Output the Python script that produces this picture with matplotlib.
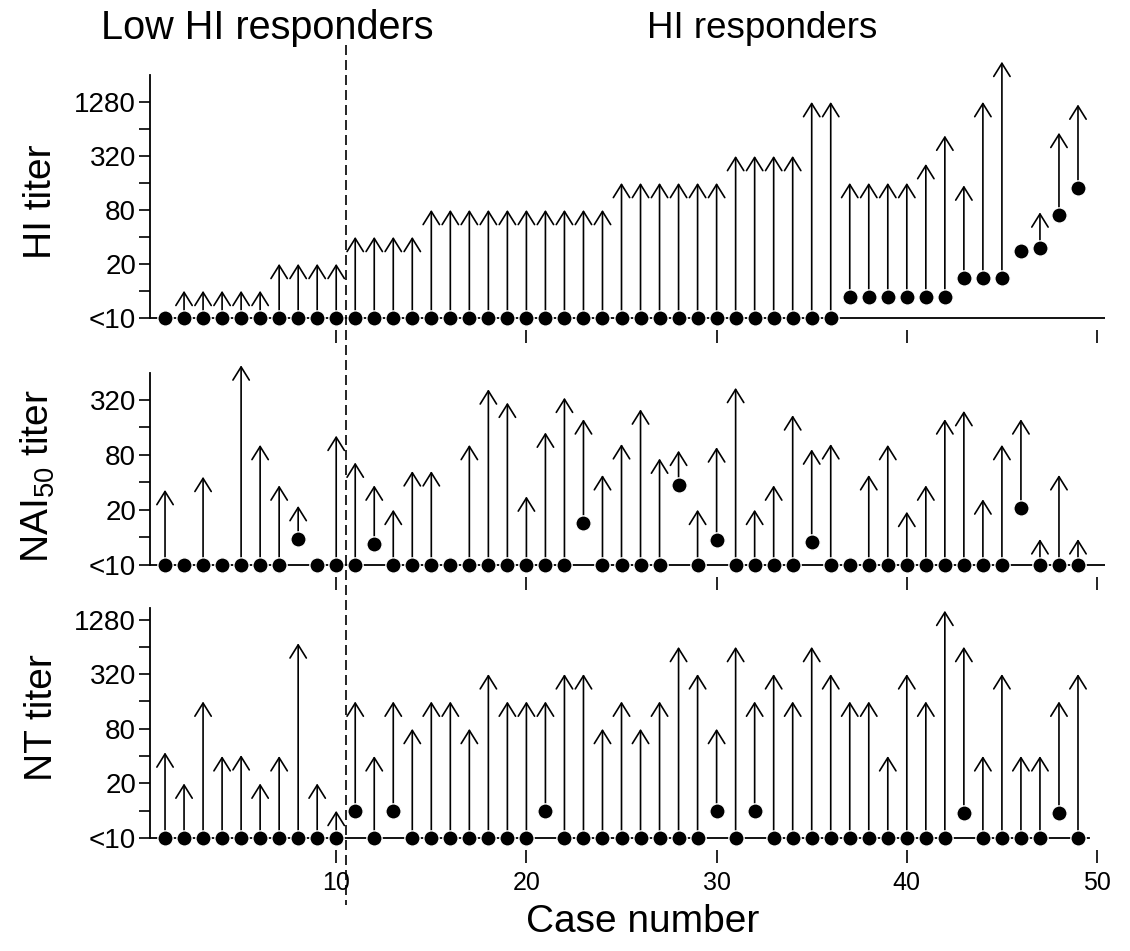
import matplotlib
matplotlib.use('Agg')
import matplotlib.pyplot as plt
import numpy as np
from matplotlib.lines import Line2D
from matplotlib.ticker import NullFormatter

plt.rcParams['font.family'] = ['Liberation Sans', 'DejaVu Sans']
plt.rcParams['mathtext.fontset'] = 'custom'
plt.rcParams['mathtext.rm'] = 'Liberation Sans'
plt.rcParams['mathtext.it'] = 'Liberation Sans:italic'

nan = np.nan
cases = np.arange(1, 50)
# "<10" is drawn at 5 on the log2 axis

# HI titer: pre (dot) and post (arrow tip)
hi_pre = [5]*36 + [8.5]*6 + [14]*3 + [28, 30, 70, 140]
hi_post = ([nan] + [10]*5 + [20]*4 + [40]*4 + [80]*10 + [160]*6 + [320]*4 + [1280]*2
           + [160]*4 + [260, 540, 150, 1280, 3600, nan, 75, 580, 1200])

# NAI50 titer
nai_pre = [5]*49
for c, v in {8: 9.6, 12: 8.4, 23: 14.4, 28: 37, 30: 9.3, 35: 8.8, 46: 20.7}.items():
    nai_pre[c-1] = v
nai_post = [33, nan, 46, nan, 770, 103, 37, 22, nan, 130,
            66, 37, 20, 53, 53, nan, 103, 420, 300, 28,
            141, 340, 197, 48, 105, 253, 73, 89, 20, 97,
            436, 20, 37, 218, 92, 105, nan, 48, 103, 19,
            37, 197, 243, 26, 103, 197, 9.5, 48, 9.5]

# NT titer
nt_pre = [5]*49
for c, v in {11: 10, 13: 10, 21: 10, 30: 10, 32: 10, 43: 9.4, 48: 9.4}.items():
    nt_pre[c-1] = v
nt_post = [44, 20, 160, 40, 41, 20, 40, 700, 20, 10,
           160, 40, 160, 80, 160, 160, 80, 320, 160, 160,
           160, 320, 320, 80, 160, 80, 160, 640, 320, 80,
           640, 160, 320, 160, 640, 320, 160, 160, 40, 320,
           160, 1600, 640, 40, 320, 40, 40, 160, 320]

xlim = (0.21, 50.42)
W, H = 1130, 951

fig = plt.figure(figsize=(W/100, H/100), dpi=100)

def px_axes(top, bottom, left=150, right=1105):
    return fig.add_axes([left/W, 1-bottom/H, (right-left)/W, (bottom-top)/H])

def panel(ax, pre, post, ylim, spine_top, major, minor, show_x, line_end=50.42):
    ax.set_yscale('log', base=2)
    ax.set_xlim(*xlim)
    ax.set_ylim(*ylim)
    ax.plot([xlim[0], line_end], [5, 5], color='black', lw=1.3, zorder=1)
    for c, a, b in zip(cases, pre, post):
        if not np.isnan(b):
            ax.annotate('', xy=(c, b), xytext=(c, a),
                        arrowprops=dict(arrowstyle='->,head_length=0.45,head_width=0.28',
                                        lw=1.2, color='black', shrinkA=0, shrinkB=0,
                                        mutation_scale=21), zorder=3)
    ax.plot(cases, pre, 'o', color='black', ms=11, mec='white', mew=1.0,
            zorder=4, clip_on=False)
    for s in ['top', 'right', 'bottom']:
        ax.spines[s].set_visible(False)
    ax.spines['left'].set_linewidth(1.3)
    ax.spines['left'].set_bounds(5, spine_top)
    ax.set_yticks(major)
    ax.set_yticklabels(['<10' if m == 5 else str(m) for m in major])
    ax.set_yticks(minor, minor=True)
    ax.yaxis.set_minor_formatter(NullFormatter())
    ax.tick_params(axis='y', which='both', direction='out', length=8, width=1.2,
                   labelsize=20, pad=2)
    ax.set_xticks([10, 20, 30, 40, 50])
    ax.tick_params(axis='x', direction='out', length=9, width=1.2,
                   labelbottom=show_x, labelsize=18, pad=6)

ax1 = px_axes(55, 330)
panel(ax1, hi_pre, hi_post, (3.65, 4280), 2560,
      [5, 20, 80, 320, 1280], [10, 40, 160, 640], False)

ax2 = px_axes(355, 577)
panel(ax2, nai_pre, nai_post, (3.65, 1000), 640,
      [5, 20, 80, 320], [10, 40, 160], False)

ax3 = px_axes(600, 850)
panel(ax3, nt_pre, nt_post, (3.7, 2100), 1700,
      [5, 20, 80, 320, 1280], [10, 40, 160, 640], True, line_end=49.6)

# dashed divider between low and high HI responders
xf = (150 + (10.5 - xlim[0]) / (xlim[1] - xlim[0]) * (1105 - 150)) / W
fig.add_artist(Line2D([xf, xf], [1-45/H, 1-905/H], transform=fig.transFigure,
                      ls=(0, (6, 3)), color='black', lw=1.2))

fig.text(267/W, 1-28/H, 'Low HI responders', ha='center', va='center', fontsize=28.5)
fig.text(762/W, 1-28/H, 'HI responders', ha='center', va='center', fontsize=26.5)
fig.text(643/W, 1-922/H, 'Case number', ha='center', va='center', fontsize=28)

fig.text(41/W, 1-202/H, 'HI titer', rotation=90, ha='center', va='center', fontsize=28)
fig.text(38/W, 1-476/H, r'NAI$_{\mathrm{50}}$ titer', rotation=90, ha='center',
         va='center', fontsize=28)
fig.text(42/W, 1-718/H, 'NT titer', rotation=90, ha='center', va='center', fontsize=28)

fig.savefig('out.png', dpi=100)
